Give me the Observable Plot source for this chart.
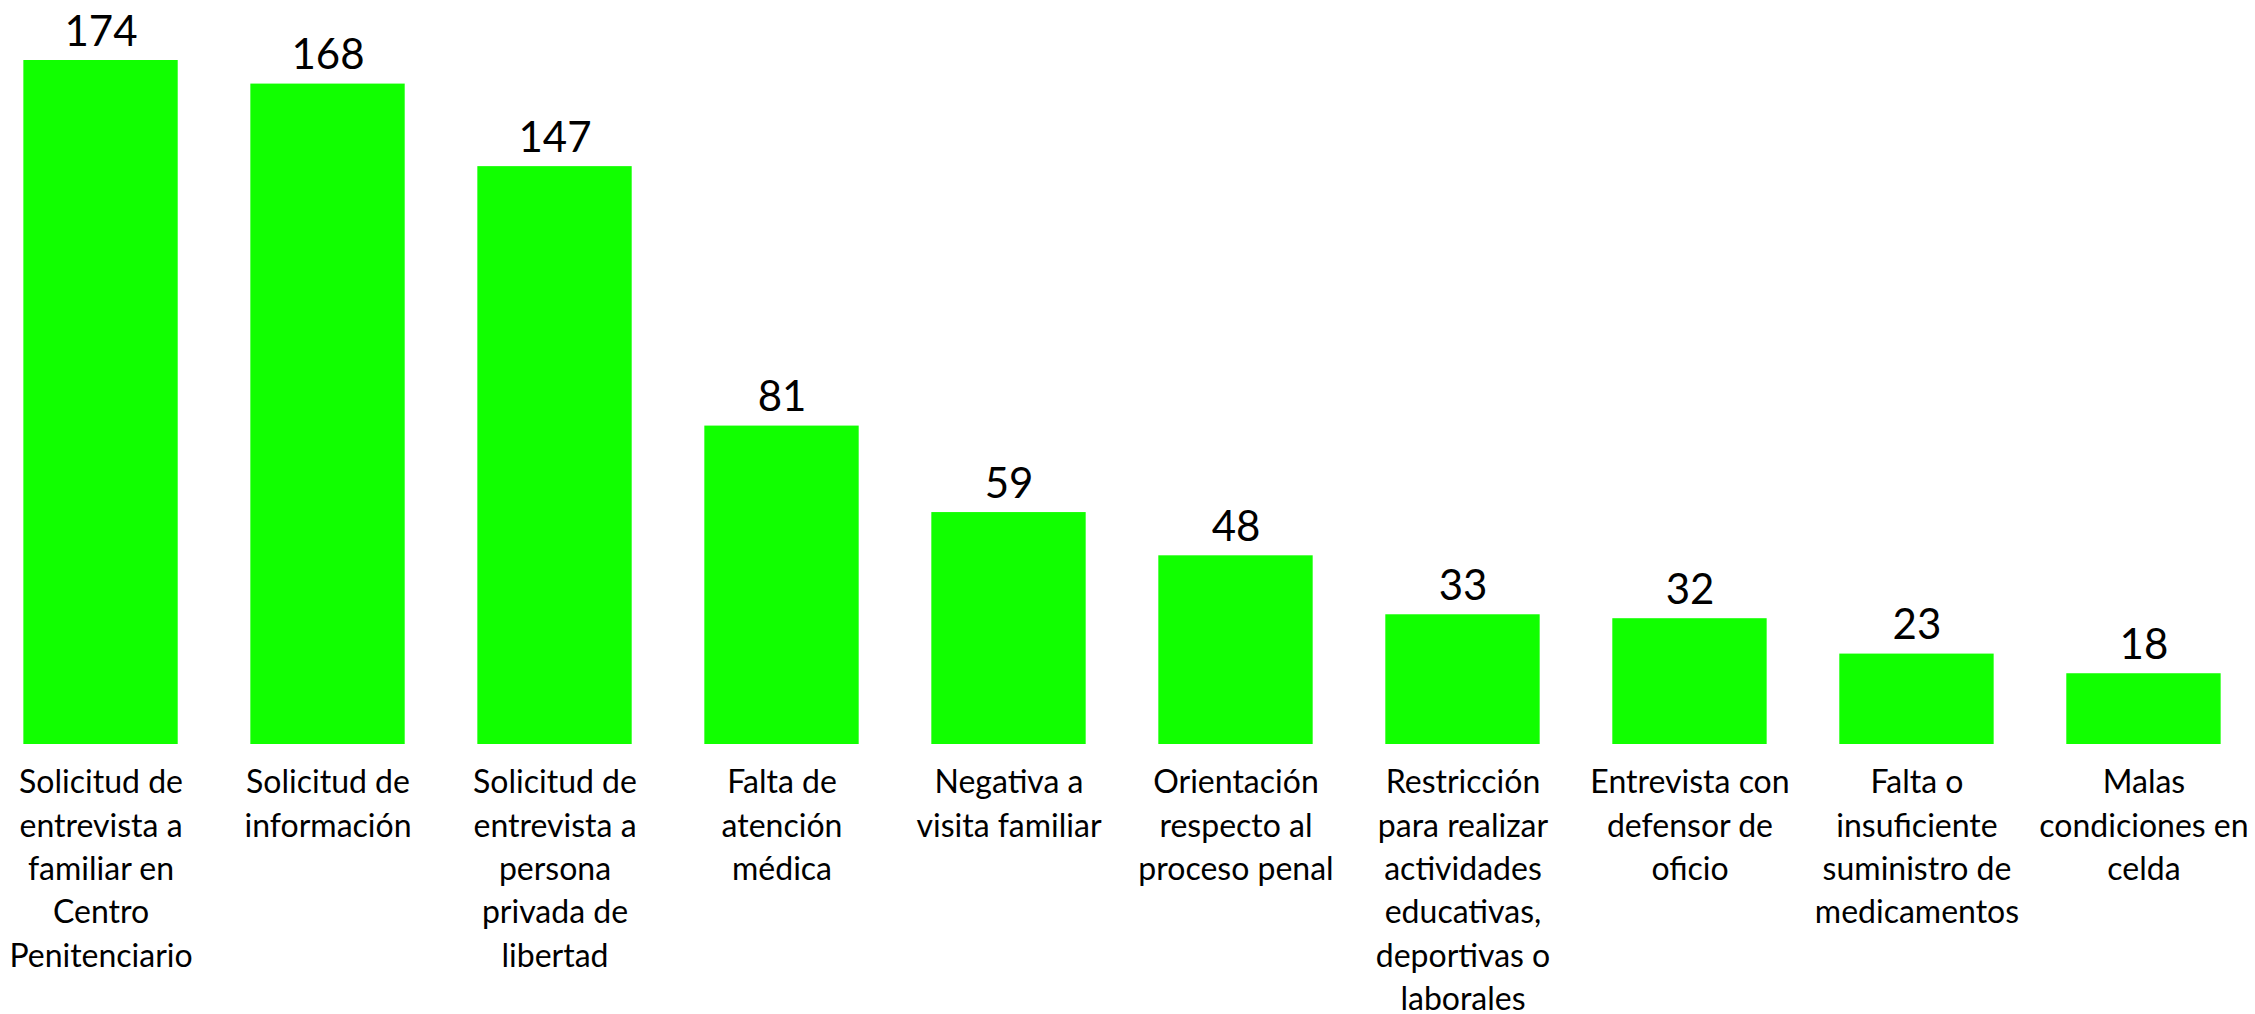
<!DOCTYPE html>
<html>
<head>
<meta charset="utf-8">
<script src="https://cdn.jsdelivr.net/npm/d3@7"></script>
<script src="https://cdn.jsdelivr.net/npm/@observablehq/plot@0.6"></script>
<style>
  html, body { margin: 0; padding: 0; background: #fff; }
</style>
</head>
<body>
<div id="chart"></div>
<script>
const categories = [
  "Solicitud de entrevista a familiar en Centro Penitenciario",
  "Solicitud de información",
  "Solicitud de entrevista a persona privada de libertad",
  "Falta de atención médica",
  "Negativa a visita familiar",
  "Orientación respecto al proceso penal",
  "Restricción para realizar actividades educativas, deportivas o laborales",
  "Entrevista con defensor de oficio",
  "Falta o insuficiente suministro de medicamentos",
  "Malas condiciones en celda"
];
const values = [174, 168, 147, 81, 59, 48, 33, 32, 23, 18];
const tickLabels = [
  "Solicitud de\nentrevista a\nfamiliar en\nCentro\nPenitenciario",
  "Solicitud de\ninformación",
  "Solicitud de\nentrevista a\npersona\nprivada de\nlibertad",
  "Falta de\natención\nmédica",
  "Negativa a\nvisita familiar",
  "Orientación\nrespecto al\nproceso penal",
  "Restricción\npara realizar\nactividades\neducativas,\ndeportivas o\nlaborales",
  "Entrevista con\ndefensor de\noficio",
  "Falta o\ninsuficiente\nsuministro de\nmedicamentos",
  "Malas\ncondiciones en\ncelda"
];

const data = categories.map((c, i) => ({category: c, value: values[i]}));

const chart = Plot.plot({
  width: 2255,
  height: 1014,
  marginTop: 60,
  marginBottom: 270,
  marginLeft: 12,
  marginRight: 23,
  style: {fontFamily: "Lato, sans-serif", color: "#000", background: "#fff"},
  x: {domain: categories, paddingInner: 0.32, paddingOuter: 0.05, round: false},
  y: {domain: [0, 174], axis: null},
  marks: [
    Plot.barY(data, {x: "category", y: "value", fill: "#11ff00"}),
    Plot.text(data, {x: "category", y: "value", text: d => String(d.value), lineAnchor: "bottom", dy: -15, fontSize: 42, fill: "#000"}),
    Plot.axisX({
      tickSize: 0,
      tickPadding: 18,
      fontSize: 32,
      lineHeight: 1.355,
      label: null,
      tickFormat: d => tickLabels[categories.indexOf(d)]
    })
  ]
});
document.getElementById("chart").appendChild(chart);
</script>
</body>
</html>
